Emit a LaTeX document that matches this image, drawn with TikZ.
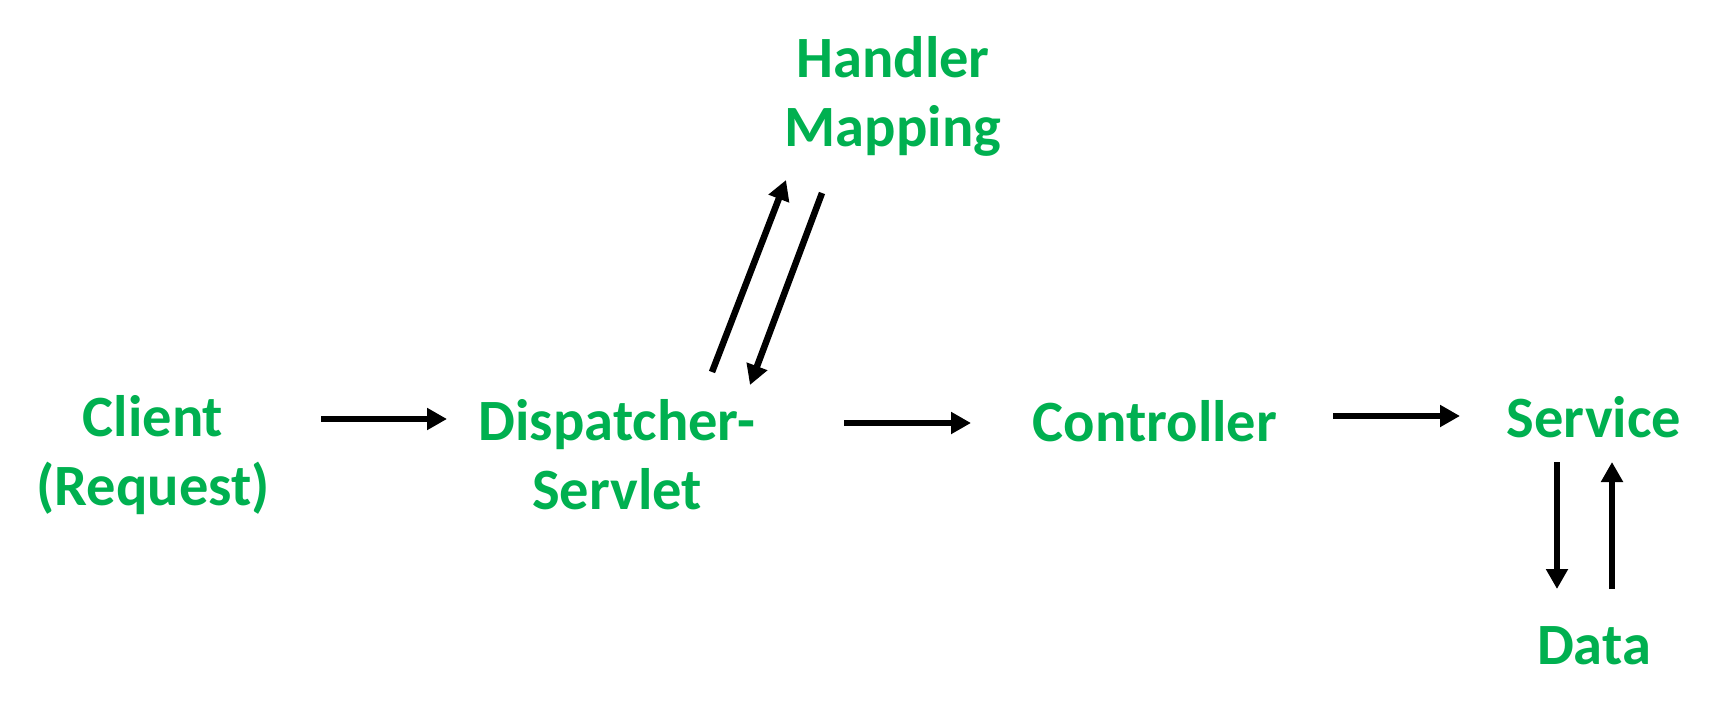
\documentclass[tikz,border=0pt]{standalone}
\usepackage{fontspec}
\setmainfont{Carlito}
\usetikzlibrary{arrows.meta}
\definecolor{labelgreen}{HTML}{00B050}
\begin{document}
\begin{tikzpicture}[x=1pt,y=-1pt,
  label/.style={text=labelgreen, font=\bfseries\fontsize{58.5}{69}\selectfont,
    align=center, inner sep=0pt},
  flow/.style={draw=black, line width=6.5pt,
    -{Triangle[length=20pt,width=21pt]}}]
  \useasboundingbox (0,0) rectangle (1717,712);

  % labels
  \node[label] (client) at (153,455) {Client\\(Request)};
  \node[label] (disp)   at (617,455) {Dispatcher-\\Servlet};
  \node[label] (hm)     at (893,96)  {Handler\\Mapping};
  \node[label] (ctrl)   at (1155,421) {Controller};
  \node[label] (svc)    at (1594,417) {Service};
  \node[label] (data)   at (1594,646) {Data};

  % arrow end points
  \coordinate (c1) at (321,419);  \coordinate (c2) at (447,419);
  \coordinate (d1) at (844,423);  \coordinate (d2) at (971,423);
  \coordinate (e1) at (1333,416); \coordinate (e2) at (1460,416);
  \coordinate (u1) at (712,372);  \coordinate (u2) at (786,180);
  \coordinate (v1) at (822,193);  \coordinate (v2) at (750,385);
  \coordinate (s1) at (1557,462); \coordinate (s2) at (1557,589);
  \coordinate (t1) at (1612,589); \coordinate (t2) at (1612,462);

  % connectors
  \draw[flow] (c1) -- (c2);
  \draw[flow] (d1) -- (d2);
  \draw[flow] (e1) -- (e2);
  \draw[flow] (u1) -- (u2);
  \draw[flow] (v1) -- (v2);
  \draw[flow] (s1) -- (s2);
  \draw[flow] (t1) -- (t2);
\end{tikzpicture}
\end{document}
